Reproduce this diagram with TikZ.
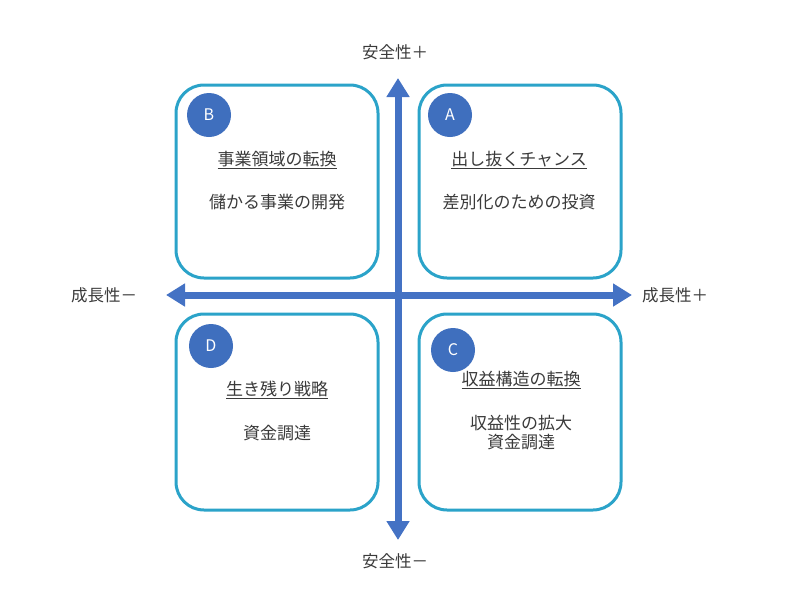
\documentclass[tikz,border=0pt]{standalone}
\usepackage{fontspec}
\setmainfont{Noto Sans CJK JP}
\usetikzlibrary{arrows.meta}
\definecolor{boxc}{HTML}{2BA3C9}
\definecolor{circc}{HTML}{3F6FBE}
\definecolor{arrc}{HTML}{4472C4}
\definecolor{txt}{HTML}{3A3A3A}
\tikzset{
  quad/.style={draw=boxc, line width=3pt, rounded corners=28pt, fill=white},
  badge/.style={circle, fill=circc, minimum size=44pt, inner sep=0pt, text=white, font=\fontsize{16}{18}\selectfont},
  body/.style={text=txt, font=\fontsize{17}{21}\selectfont, align=center, inner sep=0pt},
  axislabel/.style={text=txt, font=\fontsize{16.5}{20}\selectfont, inner sep=0pt},
  axis/.style={draw=arrc, line width=7pt, {Triangle[width=22pt,length=19pt]}-{Triangle[width=22pt,length=19pt]}}
}
\newcommand{\ulx}[1]{\underline{#1}}
\begin{document}
\begin{tikzpicture}[x=1pt,y=-1pt]
\useasboundingbox (0,0) rectangle (800,600);
% quadrants
\draw[quad] (176,85) rectangle (378,278);
\draw[quad] (419,85) rectangle (621,278);
\draw[quad] (176,314) rectangle (378,510);
\draw[quad] (419,314) rectangle (621,510);
% axes
\coordinate (top) at (398,78);
\coordinate (bot) at (398,540);
\coordinate (lft) at (166,295);
\coordinate (rgt) at (632,295);
\draw[axis] (bot) -- (top);
\draw[axis] (lft) -- (rgt);
% badges
\node[badge] (bB) at (209,115) {B};
\node[badge] (bA) at (450,115) {A};
\node[badge] (bD) at (211,346) {D};
\node[badge] (bC) at (453,350) {C};
% texts
\node[body] (tB1) at (277,160) {\ulx{事業領域の転換}};
\node[body] (tB2) at (277,202) {儲かる事業の開発};
\node[body] (tA1) at (519,160) {\ulx{出し抜くチャンス}};
\node[body] (tA2) at (519,202) {差別化のための投資};
\node[body] (tD1) at (277,390) {\ulx{生き残り戦略}};
\node[body] (tD2) at (277,433) {資金調達};
\node[body] (tC1) at (521,380) {\ulx{収益構造の転換}};
\node[body] (tC2) at (521,433) {収益性の拡大\\[-2pt]資金調達};
% axis labels
\node[axislabel] (ly1) at (395,52) {安全性＋};
\node[axislabel] (ly2) at (395,561) {安全性－};
\node[axislabel] (lx1) at (104,295) {成長性－};
\node[axislabel] (lx2) at (675,295) {成長性＋};
\end{tikzpicture}
\end{document}
